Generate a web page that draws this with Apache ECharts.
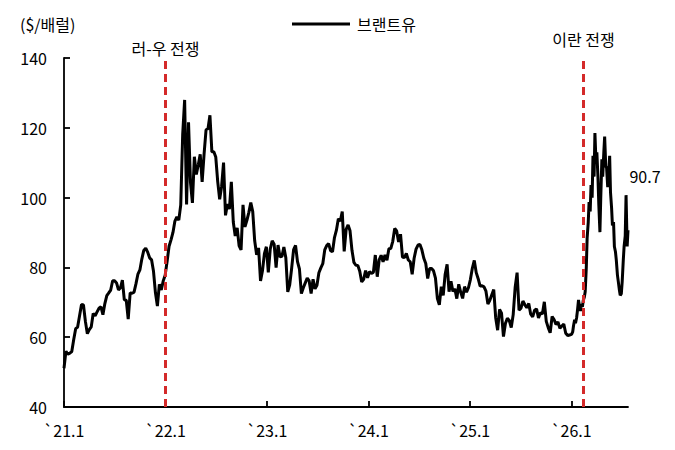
<!DOCTYPE html>
<html>
<head>
<meta charset="utf-8">
<script src="https://cdn.jsdelivr.net/npm/echarts@6/dist/echarts.min.js"></script>
<style>
html,body{margin:0;padding:0;background:#fff;}
#chart{width:675px;height:450px;}
</style>
</head>
<body>
<div id="chart"></div>
<script>
// ---- Data (weekly Friday closes, $/barrel) ----
const start2021 = '2021-01-01';
const brent2021 = [51.1,55.99,55.1,55.41,55.88, 59.34,62.43,62.91,66.13, 69.36,69.22,64.53,61.0, 62.15,62.95,66.77,66.11,67.25, 68.28,68.71,66.44,69.63, 71.89,72.69,73.51,76.18, 76.17,75.55,73.59,74.10,76.33, 70.70,70.59,65.18,72.70, 72.61,72.92,75.34,78.09, 79.28,82.39,84.86,85.53,84.38, 82.74,82.17,78.89,72.72, 68.9,75.15,73.52,76.14,77.78];
const start2022 = '2022-01-07';
const brent2022 = [81.75,86.06,87.89,90.03, 93.27,94.44,93.54,97.93, 118.11,127.98,98.0,121.6, 104.39,98.5,111.70,106.65,109.34, 112.39,104.5,112.55,119.43, 119.72,123.6,113.12,113.12, 111.63,104.6,99.5,103.20,110.01, 94.92,98.15,96.72,104.5, 93.02,89.0,91.35,86.15,85.0, 97.92,91.63,93.50,95.77, 98.57,95.99,87.62,83.63, 85.57,76.10,79.04,83.92,85.91];
const start2023 = '2023-01-06';
const brent2023 = [78.57,85.28,87.63,86.66, 79.94,86.39,83.00,83.16, 85.83,82.78,72.97,74.99,79.77, 85.12,86.31,81.66,79.54, 72.5,74.17,75.58,76.95, 76.13,72.5,76.61,73.85,74.90, 78.47,79.87,81.07,84.99, 86.24,86.81,84.80,84.48, 88.55,90.65,93.93,93.27,96.0, 84.58,90.89,92.16,90.48, 84.89,81.43,80.61,80.58, 78.88,75.84,76.55,79.07,77.04];
const start2024 = '2024-01-05';
const brent2024 = [78.76,78.29,78.56,83.55, 77.33,82.19,83.47,81.62, 83.55,82.08,85.34,85.43,87.48, 91.17,90.45,87.29,89.50, 82.96,82.79,83.98,82.12,81.62, 78.0,82.62,85.24,86.41, 86.54,85.03,82.63,81.13, 76.81,79.66,79.68,79.02,76.93, 71.06,69.3,74.49,71.98, 78.05,80.9,73.06,76.05, 73.10,73.87,71.04,75.17,72.94, 71.12,74.49,72.94,74.17];
const start2025 = '2025-01-03';
const brent2025 = [76.51,79.76,82.0,78.50,76.76, 74.66,74.74,74.43,73.18, 69.5,70.58,72.16,73.63, 65.58,62.0,67.96,66.87, 60.2,63.91,65.41,64.78,62.78, 66.47,74.23,78.5,67.77, 68.30,70.36,69.28,68.44, 69.67,66.59,65.85,67.73,68.12, 65.50,66.99,66.68,70.13, 64.53,62.73,61.29,65.94,65.07, 63.63,64.39,62.56,63.20, 63.75,61.12,60.47,60.64];
const dates2026 = ['2026-01-02','2026-01-06','2026-01-09','2026-01-13','2026-01-16','2026-01-20','2026-01-23','2026-01-27','2026-01-30','2026-02-03','2026-02-06','2026-02-10','2026-02-13','2026-02-17','2026-02-20','2026-02-24','2026-02-27','2026-03-03','2026-03-06','2026-03-10','2026-03-13','2026-03-17','2026-03-20','2026-03-24','2026-03-27','2026-03-31','2026-04-03','2026-04-07','2026-04-10','2026-04-14','2026-04-17','2026-04-21','2026-04-24','2026-04-28','2026-05-01','2026-05-05','2026-05-08','2026-05-12','2026-05-15','2026-05-19','2026-05-22','2026-05-26','2026-05-29','2026-06-02','2026-06-05','2026-06-09','2026-06-12','2026-06-16','2026-06-19','2026-06-23','2026-06-26','2026-06-30','2026-07-03','2026-07-07','2026-07-10','2026-07-14','2026-07-17','2026-07-21','2026-07-24'];
const brent2026 = [60.8,61.5,63.3,65.0,64.0,65.5,67.5,70.7,69.0,67.5,69.5,68.7,70.5,71.5,73.0,80.0,88.4,93.0,98.7,96.0,103.6,100.0,112.0,106.0,118.5,110.0,113.0,105.6,98.0,90.1,100.0,111.0,106.0,113.0,117.5,109.0,108.5,103.0,106.0,112.0,101.6,97.0,92.0,93.0,86.0,84.4,82.0,77.8,76.0,73.5,72.0,72.5,75.8,82.0,86.0,89.0,100.7,86.0,90.7];

const yearTicks = [2021,2022,2023,2024,2025,2026];
const events = [
  {date:'2022-01-01', label:'러-우 전쟁'},
  {date:'2026-02-15', label:'이란 전쟁'}
];
const seriesName = '브랜트유';
const unitLabel = '($/배럴)';
const lastLabel = '90.7';

// ---- helpers ----
function yearFrac(ds){
  const d = new Date(ds + 'T00:00:00Z');
  const y = d.getUTCFullYear();
  const s = Date.UTC(y,0,1), e = Date.UTC(y+1,0,1);
  return y + (d.getTime() - s) / (e - s);
}
function weekly(startStr, vals){
  const s = new Date(startStr + 'T00:00:00Z').getTime();
  return vals.map((v,i)=>{
    const d = new Date(s + i*7*86400000).toISOString().slice(0,10);
    return [yearFrac(d), v];
  });
}
const data = [].concat(
  weekly(start2021, brent2021),
  weekly(start2022, brent2022),
  weekly(start2023, brent2023),
  weekly(start2024, brent2024),
  weekly(start2025, brent2025),
  dates2026.map((d,i)=>[yearFrac(d), brent2026[i]])
);
const last = data[data.length-1];
const FONT = '"Noto Sans CJK KR", "Noto Sans", sans-serif';

const chart = echarts.init(document.getElementById('chart'), null, {renderer:'svg'});
chart.setOption({
  animation:false,
  backgroundColor:'#fff',
  textStyle:{fontFamily:FONT, color:'#000'},
  grid:{left:64, right:47, top:58, bottom:43, containLabel:false},
  legend:{
    data:[{name:seriesName, icon:'rect'}], left:292, top:16, padding:0,
    itemWidth:58, itemHeight:3, itemGap:10,
    itemStyle:{color:'#000'},
    textStyle:{fontFamily:FONT, fontSize:16, color:'#000', padding:[0,0,0,2]}
  },
  graphic:[{
    type:'text', left:20, top:16,
    style:{text:unitLabel, font:'16px ' + FONT, fill:'#000'}
  }],
  xAxis:{
    type:'value', min:2021, max:last[0], interval:1,
    axisLine:{show:true, lineStyle:{color:'#000', width:1.8}},
    axisTick:{show:true, inside:true, length:6, customValues:yearTicks, lineStyle:{color:'#000', width:1.8}},
    axisLabel:{customValues:yearTicks, fontFamily:FONT, fontSize:16, color:'#000', margin:15,
      formatter:v=> Number.isInteger(v) ? '`' + (v-2000) + '.1' : ''},
    splitLine:{show:false}
  },
  yAxis:{
    type:'value', min:40, max:140, interval:20,
    axisLine:{show:true, lineStyle:{color:'#000', width:1.8}},
    axisTick:{show:true, inside:true, length:6, lineStyle:{color:'#000', width:1.8}},
    axisLabel:{fontFamily:FONT, fontSize:16, color:'#000', margin:17},
    splitLine:{show:false}
  },
  series:[{
    name:seriesName, type:'line', data:data,
    symbol:'none', showSymbol:false,
    lineStyle:{color:'#000', width:3},
    itemStyle:{color:'#000'},
    z:3,
    markLine:{
      silent:true, symbol:['none','none'],
      lineStyle:{color:'#d42a2a', type:[8,5], width:3},
      label:{show:true, position:'end', fontFamily:FONT, fontSize:16, color:'#000'},
      data: events.map((e,i)=>({
        xAxis: yearFrac(e.date),
        label:{formatter:e.label, distance: i===0 ? 2 : 11}
      }))
    },
    markPoint:{
      silent:true, symbol:'circle', symbolSize:1,
      itemStyle:{color:'rgba(0,0,0,0)'},
      label:{show:true, formatter:lastLabel, fontFamily:FONT, fontSize:16, color:'#000', offset:[17,-54]},
      data:[{coord:last}]
    }
  }]
});
</script>
</body>
</html>
